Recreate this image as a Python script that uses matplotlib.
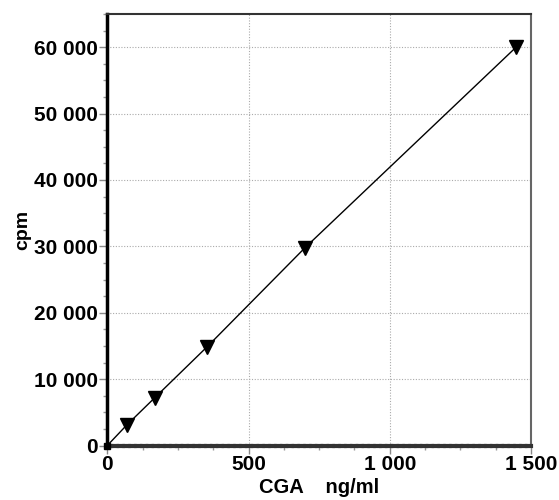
import matplotlib
matplotlib.use('Agg')
import matplotlib.pyplot as plt
import matplotlib.ticker as ticker

# standard curve values
cga = [0, 68, 168, 354, 700, 1447]
cpm = [0, 3050, 7200, 14900, 29800, 60000]

plt.rcParams['font.family'] = ['Liberation Sans', 'DejaVu Sans']
plt.rcParams['font.weight'] = 'bold'


def spaced(v, pos):
    return f'{int(round(v)):,}'.replace(',', ' ')


fig = plt.figure(figsize=(5.59, 5.0), dpi=100)
ax = fig.add_axes([0.192, 0.109, 0.758, 0.863])

ax.plot(cga, cpm, color='black', lw=1.0, zorder=3)
ax.plot(cga[1:], cpm[1:], ls='', marker='v', ms=10, color='black', zorder=4, clip_on=False)
ax.plot(cga[:1], cpm[:1], ls='', marker='s', ms=4, color='black', zorder=4, clip_on=False)

ax.set_xlim(0, 1500)
ax.set_ylim(0, 65000)

ax.xaxis.set_major_locator(ticker.MultipleLocator(500))
ax.xaxis.set_minor_locator(ticker.MultipleLocator(125))
ax.yaxis.set_major_locator(ticker.MultipleLocator(10000))
ax.yaxis.set_minor_locator(ticker.MultipleLocator(2500))
ax.xaxis.set_major_formatter(ticker.FuncFormatter(spaced))
ax.yaxis.set_major_formatter(ticker.FuncFormatter(spaced))

ax.tick_params(which='major', direction='out', length=6, width=1, color='#888888',
               labelsize=15, pad=1)
ax.tick_params(which='minor', direction='out', length=3, width=1, color='#999999')
for lab in ax.get_xticklabels() + ax.get_yticklabels():
    lab.set_fontweight('bold')

ax.grid(True, which='major', ls=(0, (1, 1.5)), color='#aaaaaa', lw=0.8)

ax.spines['left'].set_linewidth(2.5)
ax.spines['left'].set_color('black')
ax.spines['bottom'].set_linewidth(3)
ax.spines['bottom'].set_color('#333333')
ax.spines['bottom'].set_linestyle((0, (1, 0.4)))
ax.spines['top'].set_linewidth(1.5)
ax.spines['top'].set_color('#333333')
ax.spines['right'].set_linewidth(1.5)
ax.spines['right'].set_color('#666666')

ax.set_xlabel('CGA    ng/ml', fontsize=14.5, fontweight='bold', labelpad=3)
ax.set_ylabel('cpm', fontsize=14, fontweight='bold', labelpad=2)

fig.savefig('out.png', dpi=100)
